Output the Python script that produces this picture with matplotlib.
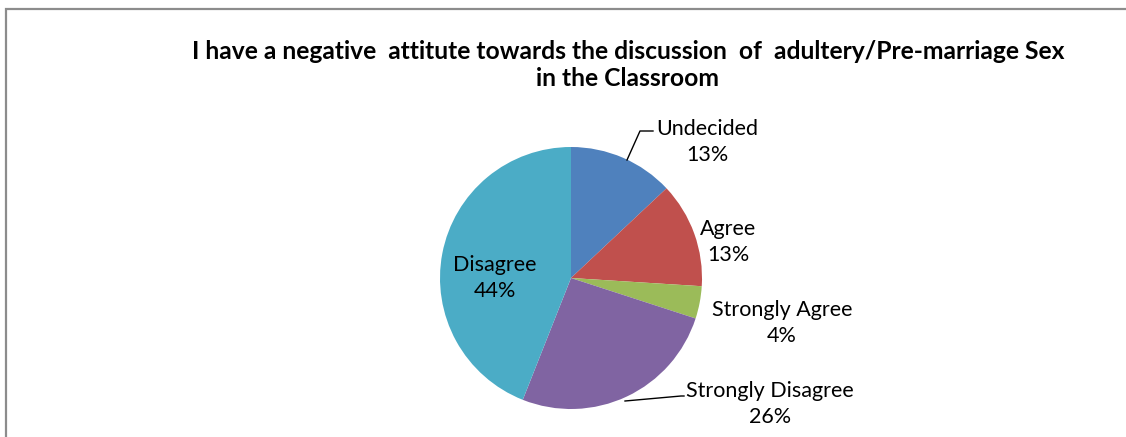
import matplotlib

matplotlib.use("Agg")
import matplotlib.pyplot as plt
from matplotlib.patches import Rectangle

categories = ["Undecided", "Agree", "Strongly Agree", "Strongly Disagree", "Disagree"]
shares = [13, 13, 4, 26, 44]
colors = ["#4F81BD", "#C0504D", "#9BBB59", "#8064A2", "#4BACC6"]
title = ("I have a negative  attitute towards the discussion  of  adultery/Pre-marriage Sex\n"
         "in the Classroom")

W, H = 1126, 437
cx, cy, r = 571, 278, 131

# label centres (pixels) and optional leader lines (pixels)
label_pos = [(707, 142), (728, 242), (782, 323), (770, 404), (495, 278)]
leaders = {0: [(627, 160), (640, 131), (653, 131)],
           3: [(625, 401), (681, 396), (684, 396)]}

fig = plt.figure(figsize=(W / 100, H / 100), dpi=100)
fig.patches.append(Rectangle((6 / W, -0.1), 1.2, (H - 9) / H + 0.1, transform=fig.transFigure,
                             fill=False, edgecolor="#8c8c8c", linewidth=1.6))

ax = fig.add_axes([(cx - r) / W, (H - cy - r) / H, 2 * r / W, 2 * r / H])
ax.pie(shares, colors=colors, startangle=90, counterclock=False, radius=1,
       wedgeprops=dict(linewidth=0))
ax.set_xlim(-1, 1)
ax.set_ylim(-1, 1)
ax.set_aspect("equal")
ax.axis("off")


def to_fig(px, py):
    return px / W, 1 - py / H


for i, (name, val) in enumerate(zip(categories, shares)):
    x, y = to_fig(*label_pos[i])
    fig.text(x, y, f"{name}\n{val}%", ha="center", va="center", fontsize=15.5,
             family="Lato", linespacing=1.32, color="black")
for pts in leaders.values():
    xs, ys = zip(*[to_fig(*p) for p in pts])
    fig.add_artist(plt.Line2D(xs, ys, transform=fig.transFigure, color="black", linewidth=1))

fig.text(628 / W, 1 - 65 / H, title, ha="center", va="center", fontsize=17.7,
         fontweight="bold", family="Lato", linespacing=1.22)

fig.savefig("out.png", dpi=100)
